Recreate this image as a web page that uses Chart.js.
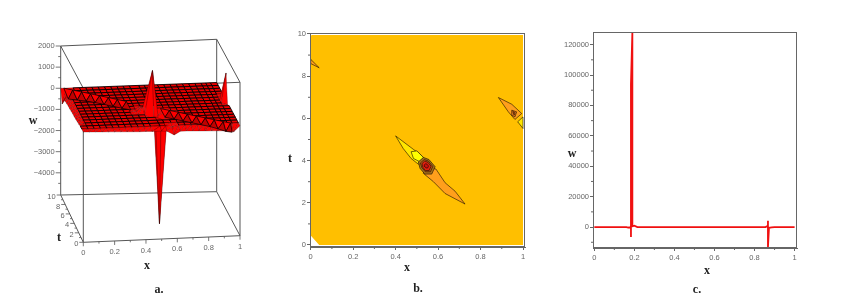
<!DOCTYPE html>
<html>
<head>
<meta charset="utf-8">
<script src="https://cdn.jsdelivr.net/npm/chart.js@4"></script>
<style>
  html, body { margin: 0; padding: 0; background: #fff; }
  body { position: relative; width: 859px; height: 304px; overflow: hidden; }
  canvas { position: absolute; top: 0; }
  .lbl { position: absolute; font: bold 12px "Liberation Serif", serif; color: #222; transform: translate(-50%, -50%); }
</style>
</head>
<body>
<canvas id="chartA" style="left:0" width="285" height="304"></canvas>
<canvas id="chartB" style="left:285px" width="275" height="304"></canvas>
<canvas id="chartC" style="left:560px" width="299" height="304"></canvas>
<div class="lbl" style="left:33px;top:120px">w</div>
<div class="lbl" style="left:59px;top:237px">t</div>
<div class="lbl" style="left:147px;top:265px">x</div>
<div class="lbl" style="left:159px;top:289px">a.</div>
<div class="lbl" style="left:290px;top:158px">t</div>
<div class="lbl" style="left:407px;top:267px">x</div>
<div class="lbl" style="left:418px;top:288px">b.</div>
<div class="lbl" style="left:572px;top:153px">w</div>
<div class="lbl" style="left:707px;top:270px">x</div>
<div class="lbl" style="left:697px;top:289px">c.</div>
<script>
// ---- panel a: surface w(x, t) ----
const xGrid = [0, .04, .08, .12, .16, .2, .24, .28, .32, .36, .4, .44, .5, .535, .58, .62, .66, .7, .74, .78, .82, .86, .9, .93, .96, 1];
const tGrid = [0, .667, 1.333, 2, 2.667, 3.333, 4, 4.667, 5.333, 6, 6.667, 7.333, 8, 8.667, 9.333, 10];
const surfaceW = [
  [0, -10, -20, -30, -40, -50, -60, -70, -80, -90, -90, -100, -100, -120, -300, -140, -140, -150, -160, -170, -180, -190, -200, -220, -260, 0],
  [0, 0, 0, 0, 0, 0, 0, 0, 0, 0, 0, 0, 0, 0, -60, 0, 0, 0, 0, 0, 0, 0, 0, 0, 0, 0],
  [0, 0, 0, 0, 0, 0, 0, 0, 0, 0, 0, 0, 0, 0, 0, 0, 0, 0, 0, 0, 0, 0, 0, 0, 0, 0],
  [-40, 0, 0, 0, 0, 0, 0, 0, 0, 0, 0, 0, 0, 0, 0, 0, 0, 0, 0, 0, 0, 0, 0, 0, 0, 0],
  [-60, 0, 0, 0, 0, 0, 0, 0, 0, 0, 0, 0, 0, -100, -200, -100, 0, 0, 0, 0, 0, 0, 0, 0, 0, 0],
  [-80, 0, 0, 0, 0, 0, 0, 0, 0, 0, 0, 0, -300, -5050, -500, -200, 0, 0, 0, 0, 0, 0, 0, 0, 0, 0],
  [-100, 0, 0, 0, 0, 0, 0, 0, 0, 0, 50, 250, 1890, -200, -50, 0, 0, 0, 0, 0, 0, 0, 0, 0, 0, 0],
  [-100, 0, 0, 0, 0, 0, 0, 0, 0, 0, 0, 100, 300, 0, 0, 0, 0, 0, 0, 0, 0, 0, 0, 0, 0, 0],
  [-120, 0, 0, 0, 0, 0, 0, 0, 0, 0, 0, 0, 0, 0, 0, 0, 0, 0, 0, 0, 0, 0, 0, 0, 0, -100],
  [-140, 0, 0, 0, 0, 0, 0, 0, 0, 0, 0, 0, 0, 0, 0, 0, 0, 0, 0, 0, 0, 0, 0, 0, 0, 1240],
  [-150, 0, 0, 0, 0, 0, 0, 0, 0, 0, 0, 0, 0, 0, 0, 0, 0, 0, 0, 0, 0, 0, 0, 0, 0, 100],
  [-170, 0, 0, 0, 0, 0, 0, 0, 0, 0, 0, 0, 0, 0, 0, 0, 0, 0, 0, 0, 0, 0, 0, 0, 0, 0],
  [-200, 0, 0, 0, 0, 0, 0, 0, 0, 0, 0, 0, 0, 0, 0, 0, 0, 0, 0, 0, 0, 0, 0, 0, 0, 0],
  [-300, -50, 0, 0, 0, 0, 0, 0, 0, 0, 0, 0, 0, 0, 0, 0, 0, 0, 0, 0, 0, 0, 0, 0, 0, 0],
  [-600, -100, 0, 0, 0, 0, 0, 0, 0, 0, 0, 0, 0, 0, 0, 0, 0, 0, 0, 0, 0, 0, 0, 0, 0, 0],
  [0, 0, 0, 0, 0, 0, 0, 0, 0, 0, 0, 0, 0, 0, 0, 0, 0, 0, 0, 0, 0, 0, 0, 0, 0, 0]
];
// steep travelling front across the surface, cut by the central spike
const bandLeftX = [.02, .07, .12, .17, .22, .27, .32, .37];
const bandLeftUpT = [10, 9.5, 9, 8.5, 8, 7.5, 7, 6.5];
const bandLeftLowT = [8, 7.5, 7, 6.5, 6, 5.5, 5, 4.5];
const bandLeftLowW = [-100, -60, -20, 0, 0, 0, 0, 0];
const bandRightX = [.56, .61, .66, .71, .76, .81, .86, .91, .95];
const bandRightUpT = [4.6, 4.1, 3.6, 3.1, 2.6, 2.1, 1.6, 1.1, .7];
const bandRightLowT = [2.6, 2.1, 1.6, 1.1, .6, .1, 0, 0, 0];
const bandRightLowW = [0, 0, 0, 0, 0, 0, -100, -230, -280];

const boxWTicks = [-4000, -3000, -2000, -1000, 0, 1000, 2000];
const boxWMinor = [-4500, -3500, -2500, -1500, -500, 500, 1500];
const boxTTicks = [0, 2, 4, 6, 8, 10];
const boxTMinor = [1, 3, 5, 7, 9];
const sharedXTicks = [0, .2, .4, .6, .8, 1];
const sharedXMinor = [.1, .3, .5, .7, .9];

// ---- panel b: contour regions ----
const fieldX = [0, .04, 1, 1, .005, 0];
const fieldT = [.45, 0, 0, 9.95, 9.95, 9.9];
const cornerX = [0, .04, 0];
const cornerT = [8.8, 8.4, 8.6];
const lowLensX = [.727, .68, .633, .59, .545, .53, .578, .633];
const lowLensT = [1.94, 2.55, 2.95, 3.6, 3.7, 3.4, 3, 2.44];
const highLensX = [.4, .484, .52, .54, .507, .473, .436];
const highLensT = [5.17, 4.53, 4.26, 4, 3.83, 4.1, 4.57];
const highCoreX = [.473, .5, .531, .515, .484];
const highCoreT = [4.42, 4.46, 4.15, 3.94, 4.1];
const pitOuterX = [.507, .531, .557, .586, .57, .538, .515];
const pitOuterT = [3.94, 4.15, 4.05, 3.71, 3.36, 3.36, 3.63];
const pitMidX = [.517, .535, .554, .575, .564, .54, .523];
const pitMidT = [3.89, 4.05, 3.98, 3.72, 3.47, 3.47, 3.67];
const pitInnerX = [.524, .537, .552, .567, .558, .54, .528];
const pitInnerT = [3.86, 3.98, 3.92, 3.73, 3.53, 3.53, 3.68];
const pitCoreX = [.535, .542, .548, .555, .551, .543, .538];
const pitCoreT = [3.8, 3.85, 3.83, 3.74, 3.65, 3.65, 3.72];
const rightLensX = [.884, .947, .994, .962, .931];
const rightLensT = [6.99, 6.67, 6.23, 5.95, 6.31];
const rightInnerX = [.947, .97, .962, .947];
const rightInnerT = [6.39, 6.31, 6.07, 6.15];
const rightCoreX = [.952, .963, .958];
const rightCoreT = [6.33, 6.27, 6.15];
const edgeHighX = [1, .975, 1];
const edgeHighT = [6.07, 5.84, 5.52];
const contourXTicks = sharedXTicks;
const contourTTicks = [0, 2, 4, 6, 8, 10];
const contourTMinor = [1, 3, 5, 7, 9];

// ---- panel c: profile w(x) ----
const profileX = [0, .16, .17, .183, .183, .183, .19, .19, .2, .215, .23, .855, .862, .867, .867, .867, .872, .885, .9, 1];
const profileW = [0, 0, -300, -300, -6500, 94000, 127800, 500, 900, 0, 0, 0, 500, 0, 4200, -13100, -500, -200, 0, 0];
const profileYTicks = [0, 20000, 40000, 60000, 80000, 100000, 120000];
const profileYMinor = [-10000, 10000, 30000, 50000, 70000, 90000, 110000];

Chart.defaults.animation = false;
Chart.defaults.font.family = '"Liberation Sans", sans-serif';
Chart.defaults.font.size = 7.5;
Chart.defaults.color = '#666';

// box corners of the 3D view, on the canvas
const view = {
  c000: [83.3, 242.3], c100: [240, 235.7], c010: [60.7, 195], c110: [216.7, 191.7],
  c001: [83.3, 88.3], c101: [240, 82.3], c011: [60.7, 46], c111: [216.7, 39.3]
};
const W_MIN = -5050, W_MAX = 2000;
function project(x, t, w) {
  const a = t / 10, b = (w - W_MIN) / (W_MAX - W_MIN);
  const pick = function(i) {
    const low = (view.c000[i] * (1 - x) + view.c100[i] * x) * (1 - a) + (view.c010[i] * (1 - x) + view.c110[i] * x) * a;
    const high = (view.c001[i] * (1 - x) + view.c101[i] * x) * (1 - a) + (view.c011[i] * (1 - x) + view.c111[i] * x) * a;
    return low * (1 - b) + high * b;
  };
  return { x: pick(0), y: pick(1) };
}
function poly(points, fill, stroke, width) {
  return {
    data: points, fill: fill ? 'shape' : false, backgroundColor: fill || 'transparent',
    borderColor: stroke, borderWidth: width, pointRadius: 0, tension: 0
  };
}
function closed(points) { return points.concat([points[0]]); }

// ---- build panel a, back to front ----
const RED = '#e80000', EDGE = 'rgba(10,0,0,.9)', FACET = 'rgba(50,0,0,.55)', BOX = '#555';
const backToFront = [];
function boxEdge(p, q) { backToFront.push(poly([project(p[0], p[1], p[2]), project(q[0], q[1], q[2])], null, BOX, 1)); }
[[0, 0], [1, 0], [1, 10], [0, 10]].forEach(function(c, i, all) {
  const n = all[(i + 1) % 4];
  boxEdge([c[0], c[1], W_MIN], [n[0], n[1], W_MIN]);
  boxEdge([c[0], c[1], W_MAX], [n[0], n[1], W_MAX]);
  boxEdge([c[0], c[1], W_MIN], [c[0], c[1], W_MAX]);
});
for (let j = tGrid.length - 2; j >= 0; j--) {
  for (let i = 0; i < xGrid.length - 1; i++) {
    const w00 = surfaceW[j][i], w10 = surfaceW[j][i + 1], w01 = surfaceW[j + 1][i], w11 = surfaceW[j + 1][i + 1];
    const p00 = project(xGrid[i], tGrid[j], w00), p10 = project(xGrid[i + 1], tGrid[j], w10);
    const p01 = project(xGrid[i], tGrid[j + 1], w01), p11 = project(xGrid[i + 1], tGrid[j + 1], w11);
    if (w00 === w10 && w00 === w01 && w00 === w11) {
      backToFront.push(poly(closed([p00, p10, p11, p01]), RED, EDGE, 1));
    } else {
      backToFront.push(poly(closed([p01, p11, p00]), '#ff0000', FACET, .5));
      backToFront.push(poly(closed([p11, p10, p00]), '#ff0000', FACET, .5));
    }
  }
}
function addBand(xs, upT, lowT, lowW) {
  for (let i = 0; i < xs.length - 1; i++) {
    const a = project(xs[i], upT[i], 0), b = project(xs[i + 1], upT[i + 1], 0);
    const c = project(xs[i], lowT[i], lowW[i]), d = project(xs[i + 1], lowT[i + 1], lowW[i + 1]);
    backToFront.push(poly(closed([a, b, c]), '#ff0000', EDGE, .8));
    backToFront.push(poly(closed([b, d, c]), '#c00000', EDGE, .8));
  }
}
addBand(bandLeftX, bandLeftUpT, bandLeftLowT, bandLeftLowW);
addBand(bandRightX, bandRightUpT, bandRightLowT, bandRightLowW);

const tickLine = function(ctx, p, dx, dy) {
  ctx.beginPath(); ctx.moveTo(p.x, p.y); ctx.lineTo(p.x + dx, p.y + dy); ctx.stroke();
};
const boxLabels = {
  id: 'boxLabels',
  afterDraw: function(chart) {
    const ctx = chart.ctx, sx = chart.scales.x, sy = chart.scales.y;
    const at = function(x, t, w) { const p = project(x, t, w); return { x: sx.getPixelForValue(p.x), y: sy.getPixelForValue(p.y) }; };
    ctx.save();
    ctx.strokeStyle = BOX; ctx.lineWidth = .8;
    ctx.fillStyle = '#666'; ctx.font = '7.5px "Liberation Sans", sans-serif';
    ctx.textBaseline = 'middle'; ctx.textAlign = 'right';
    boxWTicks.forEach(function(w) {
      const p = at(0, 10, w); tickLine(ctx, p, -5, 0);
      ctx.fillText(w < 0 ? '\u2212' + (-w) : String(w), p.x - 6, p.y);
    });
    boxWMinor.forEach(function(w) { tickLine(ctx, at(0, 10, w), -2.5, 0); });
    boxTTicks.forEach(function(t) {
      const p = at(0, t, W_MIN); tickLine(ctx, p, -4, 0);
      ctx.fillText(String(t), p.x - 5, p.y + 2);
    });
    boxTMinor.forEach(function(t) { tickLine(ctx, at(0, t, W_MIN), -2, 0); });
    ctx.textAlign = 'center';
    sharedXTicks.forEach(function(x) {
      const p = at(x, 0, W_MIN); tickLine(ctx, p, 0, 4);
      ctx.fillText(String(x), p.x, p.y + 11);
    });
    sharedXMinor.forEach(function(x) { tickLine(ctx, at(x, 0, W_MIN), 0, 2); });
    ctx.restore();
  }
};

new Chart(document.getElementById('chartA'), {
  type: 'line',
  data: { datasets: backToFront.reverse() }, // first dataset is painted last
  options: {
    responsive: false,
    layout: { padding: 0 },
    plugins: { legend: { display: false }, tooltip: { enabled: false } },
    scales: {
      x: { type: 'linear', min: 0, max: 285, display: false },
      y: { type: 'linear', min: 0, max: 304, reverse: true, display: false }
    }
  },
  plugins: [boxLabels]
});

// frame and minor ticks for the two flat panels
const framePlugin = {
  id: 'frame',
  afterDatasetsDraw: function(chart, args, opts) {
    const ctx = chart.ctx, a = chart.chartArea;
    ctx.save();
    ctx.strokeStyle = '#666'; ctx.lineWidth = 1;
    ctx.strokeRect(a.left + .5, a.top + .5, a.right - a.left - 1, a.bottom - a.top - 1);
    opts.xMinor.forEach(function(v) {
      const px = chart.scales.x.getPixelForValue(v);
      ctx.beginPath(); ctx.moveTo(px, a.bottom); ctx.lineTo(px, a.bottom + 2); ctx.stroke();
    });
    opts.yMinor.forEach(function(v) {
      const py = chart.scales.y.getPixelForValue(v);
      ctx.beginPath(); ctx.moveTo(a.left, py); ctx.lineTo(a.left - 2, py); ctx.stroke();
    });
    ctx.restore();
  }
};
function flatOptions(xMin, xMax, xTicks, yMin, yMax, yTicks, yAxisWidth, padding, minors) {
  const grid = { drawOnChartArea: false, tickLength: 3, tickColor: '#666', tickWidth: 1 };
  return {
    responsive: false,
    layout: { padding: padding },
    plugins: { legend: { display: false }, tooltip: { enabled: false }, frame: minors },
    scales: {
      x: {
        type: 'linear', min: xMin, max: xMax, grid: grid, border: { color: '#666' },
        ticks: { padding: 2, maxRotation: 0, autoSkip: false, callback: function(v) { return String(v); } },
        afterBuildTicks: function(axis) { axis.ticks = xTicks.map(function(v) { return { value: v }; }); },
        afterFit: function(axis) { axis.height = 18; }
      },
      y: {
        type: 'linear', min: yMin, max: yMax, grid: grid, border: { color: '#666' },
        ticks: { padding: 1, autoSkip: false, callback: function(v) { return String(v); } },
        afterBuildTicks: function(axis) { axis.ticks = yTicks.map(function(v) { return { value: v }; }); },
        afterFit: function(axis) { axis.width = yAxisWidth; }
      }
    }
  };
}
function zipPoints(xs, ys) { return xs.map(function(x, i) { return { x: x, y: ys[i] }; }); }

// ---- panel b ----
const LINE = 'rgba(20,10,0,.85)';
const regions = [
  [fieldX, fieldT, '#ffbf00', null],
  [cornerX, cornerT, '#ff9f1c', LINE],
  [lowLensX, lowLensT, '#ff9f1c', LINE],
  [highLensX, highLensT, '#ffe600', LINE],
  [highCoreX, highCoreT, '#ffff00', LINE],
  [rightLensX, rightLensT, '#ff9f1c', LINE],
  [rightInnerX, rightInnerT, '#f08020', LINE],
  [rightCoreX, rightCoreT, '#d8601a', LINE],
  [edgeHighX, edgeHighT, '#ffe600', LINE],
  [pitOuterX, pitOuterT, '#a8701a', LINE],
  [pitMidX, pitMidT, '#c05a14', LINE],
  [pitInnerX, pitInnerT, '#e0200e', LINE],
  [pitCoreX, pitCoreT, '#d01010', LINE]
];
new Chart(document.getElementById('chartB'), {
  type: 'line',
  data: {
    datasets: regions.map(function(r) {
      return poly(closed(zipPoints(r[0], r[1])), r[2], r[3] || 'transparent', r[3] ? .7 : 0);
    }).reverse()
  },
  options: flatOptions(-.0033, 1.0094, contourXTicks, -.095, 10.047, contourTTicks, 25,
    { left: 0, top: 33, right: 35, bottom: 39 },
    { xMinor: sharedXMinor, yMinor: contourTMinor }),
  plugins: [framePlugin]
});

// ---- panel c ----
new Chart(document.getElementById('chartC'), {
  type: 'line',
  data: {
    datasets: [{
      data: zipPoints(profileX, profileW), borderColor: '#f01010', borderWidth: 1.8,
      pointRadius: 0, tension: 0, fill: false
    }]
  },
  options: flatOptions(-.0065, 1.012, sharedXTicks, -13770, 128300, profileYTicks, 33,
    { left: 0, top: 32, right: 62, bottom: 38 },
    { xMinor: sharedXMinor, yMinor: profileYMinor }),
  plugins: [framePlugin]
});
</script>
</body>
</html>
